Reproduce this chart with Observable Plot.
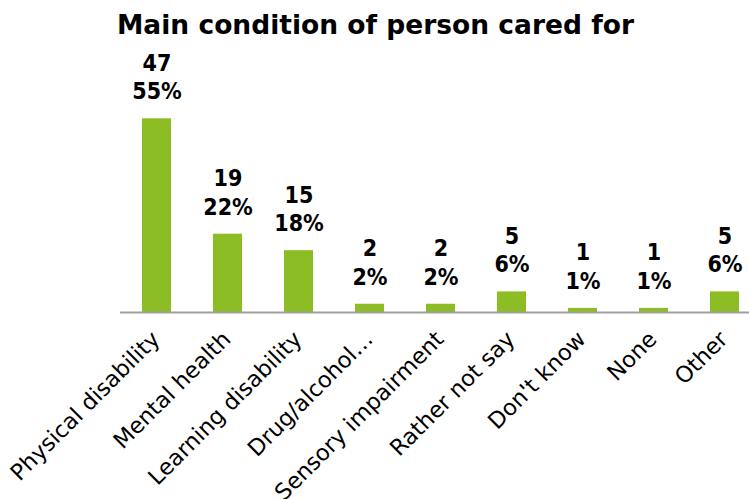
<!DOCTYPE html>
<html><head><meta charset="utf-8">
<script src="https://cdn.jsdelivr.net/npm/d3@7"></script>
<script src="https://cdn.jsdelivr.net/npm/@observablehq/plot@0.6"></script>
<style>
body{margin:0;background:#fff;}
#title{font:bold 26.5px "DejaVu Sans";line-height:32px;padding:9px 0 0 117px;height:32px;color:#000;white-space:nowrap}
</style></head><body>
<div id="title">Main condition of person cared for</div>
<div id="chart"></div>
<script>
const categories = ["Physical disability","Mental health","Learning disability","Drug/alcohol…","Sensory impairment","Rather not say","Don't know","None","Other"];
const counts = [47,19,15,2,2,5,1,1,5];
const percents = ["55%","22%","18%","2%","2%","6%","1%","1%","6%"];
const data = categories.map((c,i)=>({category:c,count:counts[i],label:counts[i]+"\n"+percents[i]}));
const chart = Plot.plot({
  width:749, height:458, marginLeft:120, marginRight:0, marginTop:0, marginBottom:187,
  style:{fontFamily:"DejaVu Sans", background:"#fff", overflow:"visible"},
  x:{domain:categories, range:[120,761.25], paddingInner:0.593, paddingOuter:0.2965, axis:null},
  y:{domain:[0,47], range:[271,77.3], axis:null},
  marks:[
    Plot.barY(data,{x:"category",y:"count",fill:"#8cbd24"}),
    Plot.ruleY([0],{stroke:"#a0a0a0",strokeWidth:2}),
    Plot.text(data,{x:"category",y:"count",text:"label",lineAnchor:"bottom",dy:-19.5,lineHeight:1.24,fontSize:23,fontWeight:"bold",fontFamily:"DejaVu Sans Condensed",fill:"#000"}),
    Plot.text(data,{x:"category",frameAnchor:"bottom",text:"category",rotate:-45,textAnchor:"end",lineAnchor:"middle",dx:-1,dy:23,fontSize:22.5,fill:"#000"})
  ]
});
document.getElementById("chart").appendChild(chart);
</script>
</body></html>
